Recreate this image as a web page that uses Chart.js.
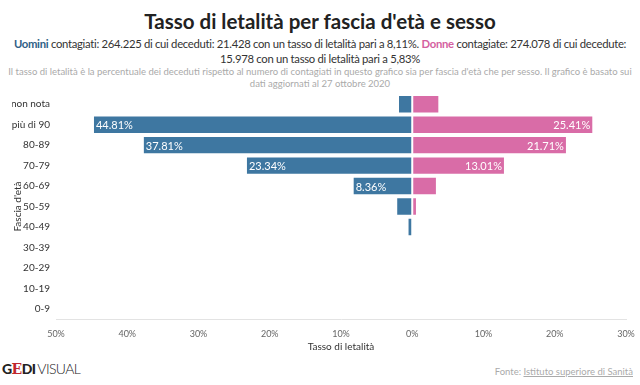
<!DOCTYPE html>
<html>
<head>
<meta charset="utf-8">
<script src="https://cdn.jsdelivr.net/npm/chart.js@4"></script>
<style>
  html, body { margin: 0; padding: 0; background: #fff; }
  body { width: 640px; height: 385px; overflow: hidden; position: relative; font-family: Lato, "Noto Sans", sans-serif; color: #333; }
  #title { position: absolute; top: 9px; left: 0; width: 640px; text-align: center; font-size: 20.5px; font-weight: bold; color: #222; }
  #sub { position: absolute; top: 36px; left: 8px; width: 624px; text-align: center; font-size: 11.3px; letter-spacing: -0.3px; line-height: 15px; color: #333; }
  #sub .m { color: #2f5f86; font-weight: bold; }
  #sub .f { color: #d45fa0; font-weight: bold; }
  #note { position: absolute; top: 66px; left: 4px; width: 632px; text-align: center; font-size: 9.5px; line-height: 12px; color: #aaa; }
  #wrap { position: absolute; top: 88px; left: 0; width: 640px; height: 266px; }
  #logo { position: absolute; left: 2px; top: 360px; font-size: 14px; color: #222; letter-spacing: -0.6px; }
  #logo b { font-weight: 900; }
  #logo .e { color: #c0272d; font-family: "DejaVu Serif", serif; }
  #logo span.v { font-weight: 300; margin-left: 2px; }
  #src { position: absolute; right: 7px; top: 366px; font-size: 9.5px; color: #aaa; }
  #src u { color: #aaa; }
</style>
</head>
<body>
<div id="title">Tasso di letalità per fascia d'età e sesso</div>
<div id="sub"><span class="m">Uomini</span> contagiati: 264.225 di cui deceduti: 21.428 con un tasso di letalità pari a 8,11%. <span class="f">Donne</span> contagiate: 274.078 di cui decedute: 15.978 con un tasso di letalità pari a 5,83%</div>
<div id="note">Il tasso di letalità è la percentuale dei deceduti rispetto al numero di contagiati in questo grafico sia per fascia d'età che per sesso. Il grafico è basato sui dati aggiornati al 27 ottobre 2020</div>
<div id="wrap"><canvas id="chart-bars"></canvas></div>
<div id="logo"><b>G<span class="e">E</span>DI</b><span class="v">VISUAL</span></div>
<div id="src">Fonte: <u>Istituto superiore di Sanità</u></div>
<script>
//
// Data
//

var ageGroups = ["non nota", "più di 90", "80-89", "70-79", "60-69", "50-59", "40-49", "30-39", "20-29", "10-19", "0-9"];
var menRates = [2.0, 44.81, 37.81, 23.34, 8.36, 2.25, 0.66, 0.2, 0.04, 0.01, 0.02];
var womenRates = [3.8, 25.41, 21.71, 13.01, 3.46, 0.66, 0.28, 0.07, 0.02, 0.01, 0.01];
var xTicks = [-50, -40, -30, -20, -10, 0, 10, 20, 30];

var menColor = "#3e77a1";
var womenColor = "#d96ca7";

// Labels inside the big bars
var barLabels = {
  id: "barLabels",
  afterDatasetsDraw: function (chart) {
    var ctx = chart.ctx;
    ctx.save();
    ctx.font = "11px Lato, 'Noto Sans', sans-serif";
    ctx.fillStyle = "#fff";
    ctx.textBaseline = "middle";
    chart.data.datasets.forEach(function (ds, di) {
      var meta = chart.getDatasetMeta(di);
      meta.data.forEach(function (bar, i) {
        var v = Math.abs(ds.data[i]);
        if (v < 5) return;
        var txt = v.toFixed(2) + "%";
        if (ds.data[i] < 0) {
          ctx.textAlign = "left";
          ctx.fillText(txt, bar.x + 3, bar.y + 1);
        } else {
          ctx.textAlign = "right";
          ctx.fillText(txt, bar.x - 3, bar.y + 1);
        }
      });
    });
    ctx.restore();
  }
};

var $chart = document.getElementById("chart-bars");

new Chart($chart, {
  type: "bar",
  data: {
    labels: ageGroups,
    datasets: [
      {
        label: "Uomini",
        data: menRates.map(function (v) { return -v; }),
        backgroundColor: menColor,
        borderColor: "rgba(255,255,255,0.55)",
        borderWidth: 1,
        borderSkipped: false
      },
      {
        label: "Donne",
        data: womenRates,
        backgroundColor: womenColor,
        borderColor: "rgba(255,255,255,0.55)",
        borderWidth: 1,
        borderSkipped: false
      }
    ]
  },
  options: {
    indexAxis: "y",
    responsive: true,
    maintainAspectRatio: false,
    animation: false,
    layout: { padding: { left: 12, right: 14, top: 6, bottom: 0 } },
    datasets: { bar: { barPercentage: 0.9, categoryPercentage: 1 } },
    plugins: {
      legend: { display: false },
      tooltip: { enabled: false }
    },
    scales: {
      x: {
        stacked: true,
        min: -50,
        max: 30,
        afterBuildTicks: function (axis) {
          axis.ticks = xTicks.map(function (v) { return { value: v }; });
        },
        afterFit: function (axis) {
          axis.height = 35;
          axis.paddingLeft = 0;
          axis.paddingRight = 0;
        },
        grid: { display: false, drawTicks: false },
        border: { display: true, color: "#e3e3e3" },
        ticks: {
          color: "#666",
          font: { size: 9, family: "Lato, 'Noto Sans', sans-serif" },
          padding: 10,
          maxRotation: 0,
          callback: function (v) { return Math.abs(v) + "%"; }
        },
        title: {
          display: true,
          text: "Tasso di letalità",
          color: "#333",
          font: { size: 10, family: "Lato, 'Noto Sans', sans-serif" },
          padding: { top: 2, bottom: 1 }
        }
      },
      y: {
        stacked: true,
        grid: { display: false, drawTicks: false },
        border: { display: false },
        afterFit: function (axis) {
          axis.width = 44;
          axis.paddingTop = 0;
          axis.paddingBottom = 0;
        },
        ticks: {
          color: "#333",
          font: { size: 10, family: "Lato, 'Noto Sans', sans-serif" },
          padding: 6
        },
        title: {
          display: true,
          text: "Fascia d'età",
          color: "#333",
          font: { size: 10, family: "Lato, 'Noto Sans', sans-serif" },
          padding: 0
        }
      }
    }
  },
  plugins: [barLabels]
});
</script>
</body>
</html>
